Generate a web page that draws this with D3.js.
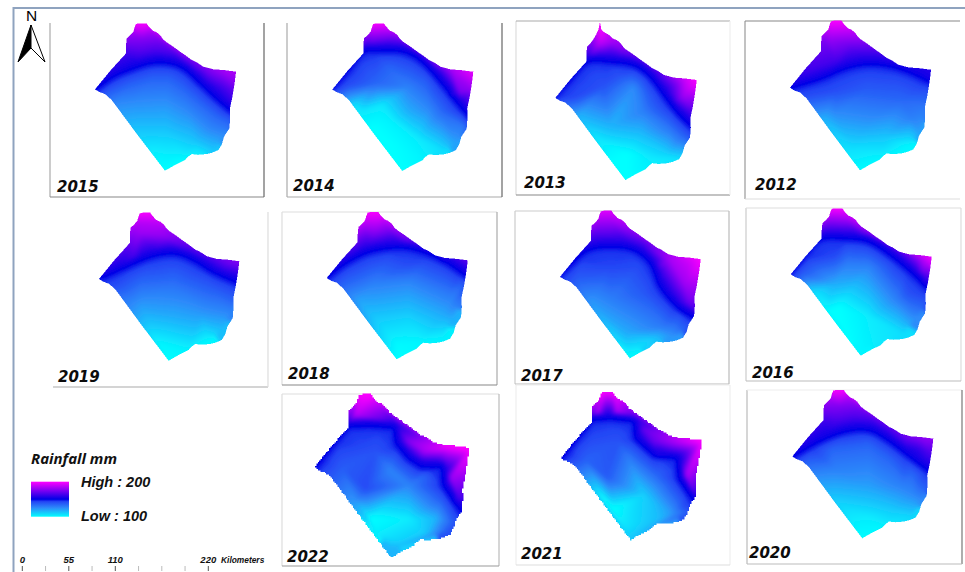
<!DOCTYPE html>
<html><head><meta charset="utf-8">
<script src="https://cdn.jsdelivr.net/npm/d3@7/dist/d3.min.js"></script>
<style>html,body{margin:0;padding:0;background:#fff;overflow:hidden}svg{display:block}</style>
</head><body><svg id="c" width="965" height="572"></svg>
<script>
// Boundary of the study area, in map units (0-100 across its extent)
const outline = [[29,0.5],[31,0],[36.6,0],[38,2],[40.9,5],[43.5,6],[46.1,7.9],[48,10.5],[50.1,12.4],[55,15.5],[60.3,19.2],[64,21.6],[68.6,24.9],[72,26.4],[76.8,29.4],[83.9,31.2],[92,31.8],[100,32.8],[99.5,37],[98.8,41.9],[97.4,50],[95.7,57.7],[95.8,65],[95.3,71.3],[91.5,76.9],[90,82],[87.5,86],[83,87.8],[79.2,88.7],[73,89.2],[68.6,88.7],[66,90.5],[63.8,92.8],[57,96],[49.6,100],[30,75.5],[11.8,52],[7.1,48],[3,46.6],[0,44.8],[11,32],[22,20.4],[22,15],[22.5,10.2],[25,8],[27.2,5.7],[28,3]];
const outline2013 = [[30.5,-1],[31.6,-6.3],[32.6,-1],[35,1],[38,2.5],[40.9,5],[43.5,6],[46.1,7.9],[48,10.5],[50.1,12.4],[55,15.5],[60.3,19.2],[64,21.6],[68.6,24.9],[72,26.4],[76.8,29.4],[83.9,31.2],[92,31.8],[100,32.8],[99.5,37],[98.8,41.9],[97.4,50],[95.7,57.7],[95.8,65],[95.3,71.3],[91.5,76.9],[90,82],[87.5,86],[83,87.8],[79.2,88.7],[73,89.2],[68.6,88.7],[66,90.5],[63.8,92.8],[57,96],[49.6,100],[30,75.5],[11.8,52],[7.1,48],[3,46.6],[0,44.8],[11,32],[22,20.4],[22,15],[22.5,10.2],[25,8],[27.2,5],[29,2]];

// Dark-blue 150 mm line in each year (map units)
const ridge2015 = [[-2,46],[0,44.8],[13,36],[27,30.5],[39,27],[51,26.7],[62.6,30.5],[74.5,40.7],[86,51],[96,59],[101,62]];
const ridge2014 = [[-2,45],[10,33],[21,20],[30.5,18.5],[49.6,19],[63.6,26],[77.6,40.6],[87,52],[95,61],[101,68]];
const ridge2013 = [[-2,45],[10,33],[22.6,20.5],[38.7,20.5],[55,22.7],[67,30.6],[79,46],[87,55.5],[95,63],[101,68]];
const ridge2012 = [[-2,46],[0,45],[22.5,38.5],[39,32],[55.5,29],[72,30.7],[86,35],[99,40.8],[102,42]];
const ridge2019 = [[-2,46],[0,45],[17,37.6],[36,30],[53,27.5],[67,32],[81,40],[97,46.6],[102,49]];
const ridge2018 = [[-2,46],[0,44.6],[13,35],[30,27],[51,24],[67.7,27],[84,33.7],[98,42.8],[102,46]];
const ridge2017 = [[-2,45],[9,35],[20,26.6],[35.5,24.4],[52,26.6],[64,35.7],[71,51.5],[83,65],[93.6,71.8],[99,76]];
const ridge2016 = [[-2,45],[10,32],[21,21],[38.8,20.4],[55.4,22.6],[72,32.8],[86,44],[97,54.3],[102,59]];
const ridge2022 = [[-2,46],[1.5,44],[11,32],[22,20],[35,19.3],[51,20.5],[52.5,30],[60.6,39.3],[69,44.4],[82,44.4],[83,55.6],[94,70.9],[98,76]];
const ridge2021 = [[-2,46],[1.5,44],[11,32],[22.5,19],[35,18],[51.5,19.8],[52.7,31.5],[65.7,42.7],[82,45],[83.5,58.4],[93,72],[98,78]];
const ridge2020 = [[-2,46],[0,45],[18,35],[37,28],[54,27],[68,34],[82,44],[96,54],[101,58]];

// Rainfall readings [mm, u, v] taken from each year's map colours
const rain2015 = [[200,28,-1],[200,37,-1],[185,25,4],[185,40,4],[175,23,11],[175,33,11],[175,45,10],[163,21,20],[165,32,20],[165,43,18],[165,56,20],[170,68,26],[172,80,33],[183,92,32],[185,102,32],[172,100,44],[160,88,44],[162,98,52],
 [135,10,48],[135,25,42],[135,40,38],[135,52,38],[135,62,44],[135,72,52],[135,85,62],[135,95,67],[125,14,55],[125,30,53],[125,50,52],[125,65,60],[125,80,72],[125,92,76],[112,28,73],[112,50,73],[112,70,80],[112,84,86],[103,40,88],[103,52,90],[103,62,90],[103,74,89],[100,49,101],[100,64,94]];
const rain2014 = [[200,30,-1],[200,37,-1],[170,27,12],[172,40,10],[157,54,17],[165,60,19],[172,72,27],[183,85,32],[195,100,33],[173,90,47],[165,86,48],[178,98,45],
 [142,10,42],[135,30,40.6],[128,54,43],[135,40,30],[138,66,38],[135,78,59],[125,68,59],[118,54,59],[105,15,56],[105,21,59],[105,35,55],[103,42,66],[100,42,81],[100,30,70],[100,25,72],[100,38,88],[104,60,78],[120,87,81],[107,78,86],[130,93,70],[100,50,98],[102,62,92]];
const rain2013 = [[200,31.6,-7],[200,32,-2],[187,31,8],[168,27,15],[180,40,8],[172,50,14],[162,60,20],[162,74,31.6],[200,101,33],[190,92,33],[180,90,44],[170,86,46],[165,96,54],
 [142,15,44],[140,34,37],[125,55,38],[140,45,30],[138,66,42],[128,62,54],[116,38.7,64],[116,16,57],[106,26,70],[104,34,75],[100,40,88],[100,50.5,82],[100,52,98],[130,81,66],[135,90,70],[110,79,82],[104,66,85],[115,60,68],[106,88,86]];
const rain2012 = [[200,29,-1],[200,37,-1],[180,28,12],[172,41.6,16],[163,32,27],[163,15,32],[160,62,23],[154,93,33],[157,101,33],[175,23,12],
 [141,32,47],[138,55,45],[135,79,52],[142,10,50],[124,32,63],[123,55,67.5],[128,86,65],[130,96,58],[107,44,85],[112,67,78],[102,84,83],[100,48,101],[102,66,92],[115,24,67],[120,92,75]];
const rain2019 = [[200,29,-1],[200,37,-1],[180,29,14],[178,48,16],[163,24,30],[163,65,25],[170,91,34],[175,101,34],[156,97,42],[185,26,7],[186,42,7],
 [142,12,48],[132,53,48],[135,30,46],[138,80,50],[127,91,66],[122,30,62],[118,53,70],[122,72,68],[102,41,88],[102,77,86],[100,50,101],[103,64,92],[114,88,79]];
const rain2018 = [[200,29,-1],[200,37,-1],[176,34,14],[185,26,8],[170,58,19],[163,82,30],[168,101,33],[160,20,26],[170,45,14],
 [142,58,35],[140,30,36],[128,34,48],[126,58,48],[136,12,48],[130,87,55],[135,96,50],[110,58,71],[112,34,71],[117,82,71],[120,22,60],[100,50,101],[101,50,90],[102,66,88],[103,82,85]];
const rain2017 = [[195,29,-1],[195,37,-1],[183,35.5,6],[168,35.5,15],[170,24,14],[165,59,22],[183,78,33],[200,101,33],[181,88,49],[158,77,51.5],[172,72,36],[190,92,35],[172,92,62],
 [143,35.5,38],[138,12,45],[128,35.5,60],[138,59,56],[118,47,83],[102,47,97],[130,73,78],[122,78,85],[110,66,87.6],[142,55,38],[122,22,62],[140,85,72]];
const rain2016 = [[200,29,-1],[200,37,-1],[168,28,12],[172,55,17],[180,40,8],[155,64.5,23.8],[195,99,34],[185,92,33],[170,93,43],[160,96,50],
 [143,31,31.5],[138,8,44],[127,55,39.6],[118,31,51],[100,34,66.7],[104,55,73.5],[127,74,62],[140,83,57.7],[125,86,73.5],[107,79,84.8],[102,50,96],[128,40,38],[106,16,57],[100,25,70],[100,40,86],[105,65,88]];
const rain2022 = [[200,29,-1],[200,37,0],[185,26,13],[172,38.7,15],[165,48,16],[176,60.6,29],[160,55,24],[183,71,35],[195,86,33],[200,101,34],[181,88,51],[164,92.8,63.7],[170,84,40],
 [143,30.5,31],[137,18,45.4],[142,32.7,57.6],[127,48.8,46.4],[140,39,35],[127,60.6,55.6],[100,35.9,76],[103,39,84],[104,60.6,76],[122,26,65.8],[116,78,76],[116,50,94],[140,86.5,84],[135,88,78],[112,71,86],[110,56,90],[138,82,64],[145,8,42],[135,70,50]];
const rain2021 = [[200,31,-1],[200,38,0],[187,25,13.5],[183,39.7,13.5],[168,51.5,15.7],[170,65.7,33.7],[170,58.6,24.7],[187,85,33.7],[200,101,33.7],[183,89,56],[166,93,67],[158,70,42.7],
 [143,23,29.2],[136,18,46],[138,32.6,57.3],[127,49,47],[100,30,72],[100,37,78.6],[110,58.6,69.7],[106,47,90],[112,49,100],[121,77,81],[140,87,78.6],[115,70.4,85.4],[135,68,56],[145,8,43],[140,40,33]];
const rain2020 = [[200,28,-1],[200,37,-1],[185,25,4],[185,40,4],[175,23,11],[175,33,11],[175,45,10],[163,21,20],[165,32,20],[165,43,18],[165,56,19],[168,68,24],[170,80,32],[178,92,32],[180,102,32],[165,97,42],[158,88,40],
 [136,10,48],[135,28,40],[135,54,37],[135,68,46],[135,85,56],[128,30,53],[121,54,64],[128,77,64],[125,85,71],[125,14,58],[110,30,75],[104,54,86],[112,72,80],[103,44,90],[100,50,101],[102,64,93],[108,84,86]];

// Legend and tick values
const years = [2015,2014,2013,2012,2019,2018,2017,2016,2022,2021,2020];
const rainDomain = [100,125,143,150,200];
const rainColors = ["#00ffff","#2d8cfa","#2446f5","#0000e6","#ff00ff"];
const scaleTicks = [0,27.5,55,82.5,110,137.5,165,192.5,220];
const scaleLabels = [0,55,110,220];

// Layout (screen pixels)
const layout = {
 2015:{box:[95,236,23.3,170.7],label:[57,192],frame:[[50,23,50,197,"#aaa"],[50,197,264,197,"#888"],[264,23,264,197,"#666"]],ridge:ridge2015,rain:rain2015},
 2014:{box:[332.3,473.3,23.3,171],label:[293,191],frame:[[287,23,287,197,"#aaa"],[287,197,502,197,"#aaa"],[502,23,502,197,"#666"]],ridge:ridge2014,rain:rain2014},
 2013:{box:[555.3,696.7,31.2,180],label:[524,188],frame:[[516,21,516,195,"#ddd"],[516,21,730,21,"#aaa"],[516,195,730,195,"#888"],[730,21,730,195,"#eee"]],ridge:ridge2013,rain:rain2013,shape:outline2013},
 2012:{box:[790,931,20.7,170.3],label:[755,190],frame:[[745,21,745,199,"#999"],[745,21,960,21,"#888"],[745,199,960,199,"#ddd"]],ridge:ridge2012,rain:rain2012},
 2019:{box:[99,239.3,212.7,360.7],label:[58,382],frame:[[53,387,268,387,"#aaa"],[268,212,268,387,"#ddd"]],ridge:ridge2019,rain:rain2019},
 2018:{box:[326.7,467.7,212,359.3],label:[288,379],frame:[[282,212,282,385,"#ddd"],[282,212,497,212,"#ddd"],[497,212,497,385,"#aaa"],[282,385,497,385,"#888"]],ridge:ridge2018,rain:rain2018},
 2017:{box:[560,700.7,210.7,358.3],label:[521,381],frame:[[515,211,515,384,"#ccc"],[515,211,729,211,"#ccc"],[729,211,729,384,"#bbb"],[515,384,729,384,"#bbb"]],ridge:ridge2017,rain:rain2017},
 2016:{box:[790.7,931.7,208.3,355.7],label:[752,378],frame:[[746,208,746,381,"#ccc"],[746,208,961,208,"#ddd"],[961,208,961,381,"#ddd"],[746,381,961,381,"#bbb"]],ridge:ridge2016,rain:rain2016},
 2022:{box:[314.3,469.3,394,557.7],label:[287,562],frame:[[282,394,282,566,"#ddd"],[282,394,499,394,"#ddd"],[499,394,499,566,"#bbb"],[282,566,499,566,"#999"]],ridge:ridge2022,rain:rain2022,coarse:true},
 2021:{box:[560.7,701.7,391.7,540],label:[521,559],frame:[[516,385,516,565,"#eee"],[516,385,730,385,"#eee"],[730,385,730,565,"#eee"],[516,565,730,565,"#ddd"]],ridge:ridge2021,rain:rain2021,coarse:true},
 2020:{box:[792.3,933.3,390,538.3],label:[749,558],frame:[[747,390,747,564,"#bbb"],[747,390,962,390,"#eee"],[962,390,962,564,"#777"],[747,564,962,564,"#bbb"]],ridge:ridge2020,rain:rain2020}
};

const color = d3.scaleLinear().domain(rainDomain).range(rainColors).clamp(true);
const svg = d3.select("#c");
const defs = svg.append("defs");
defs.append("filter").attr("id","soft").attr("x","-5%").attr("y","-5%").attr("width","110%").attr("height","110%")
  .append("feGaussianBlur").attr("stdDeviation",0.45);
const root = svg.append("g");

// Smooth the ridge between read points, so the mesh follows the curve
function refine(line, curved){
  const out=[];
  for(let i=0;i<line.length-1;i++){
    const p0=line[Math.max(i-1,0)],p1=line[i],p2=line[i+1],p3=line[Math.min(i+2,line.length-1)];
    const n=4;
    for(let k=0;k<n;k++){
      const t=k/n;
      if(curved){
        const f=j=>0.5*((2*p1[j])+(-p0[j]+p2[j])*t+(2*p0[j]-5*p1[j]+4*p2[j]-p3[j])*t*t+(-p0[j]+3*p1[j]-3*p2[j]+p3[j])*t*t*t);
        out.push([f(0),f(1)]);
      } else out.push([p1[0]+(p2[0]-p1[0])*t,p1[1]+(p2[1]-p1[1])*t]);
    }
  }
  out.push(line[line.length-1]);
  return out;
}

function fieldImage(p){
  const [x0,x1,y0,y1]=p.box, SS=2, pad=14;
  const ox=Math.floor(x0)-pad, oy=Math.floor(y0)-pad;
  const wpx=Math.ceil(x1-x0)+2*pad+1, hpx=Math.ceil(y1-y0)+2*pad+1;
  const W=wpx*SS,H=hpx*SS;
  const sx=d3.scaleLinear().domain([0,100]).range([x0,x1]);
  const sy=d3.scaleLinear().domain([0,100]).range([y0,y1]);
  // mesh nodes: read samples, the ridge and its two shoulders
  const line=refine(p.ridge,!p.coarse);
  const nodes=p.rain.map(d=>[d[1],d[2],d[0]]);
  line.forEach((q,i)=>{
    nodes.push([q[0],q[1],150]);
    const a=line[Math.max(i-1,0)],b=line[Math.min(i+1,line.length-1)];
    let nx=(b[1]-a[1]),ny=-(b[0]-a[0]);const L=Math.hypot(nx,ny)||1;nx/=L;ny/=L;
    nodes.push([q[0]+nx*2.5,q[1]+ny*2.5,154]);
    nodes.push([q[0]-nx*2.8,q[1]-ny*2.8,145]);
  });
  const pts=nodes.map(n=>[(sx(n[0])-ox)*SS,(sy(n[1])-oy)*SS]);
  const del=d3.Delaunay.from(pts);
  const field=new Float64Array(W*H).fill(NaN);
  const T=del.triangles;
  for(let t=0;t<T.length;t+=3){
    const a=T[t],b=T[t+1],c=T[t+2];
    const [ax,ay]=pts[a],[bx,by]=pts[b],[cx,cy]=pts[c];
    const d=(by-cy)*(ax-cx)+(cx-bx)*(ay-cy);
    if(Math.abs(d)<1e-6)continue;
    const xa=Math.max(0,Math.floor(Math.min(ax,bx,cx))),xb=Math.min(W-1,Math.ceil(Math.max(ax,bx,cx)));
    const ya=Math.max(0,Math.floor(Math.min(ay,by,cy))),yb=Math.min(H-1,Math.ceil(Math.max(ay,by,cy)));
    for(let y=ya;y<=yb;y++)for(let x=xa;x<=xb;x++){
      const l1=((by-cy)*(x-cx)+(cx-bx)*(y-cy))/d, l2=((cy-ay)*(x-cx)+(ax-cx)*(y-cy))/d, l3=1-l1-l2;
      if(l1>=-1e-6&&l2>=-1e-6&&l3>=-1e-6) field[y*W+x]=l1*nodes[a][2]+l2*nodes[b][2]+l3*nodes[c][2];
    }
  }
  let hint=0;
  for(let y=0;y<H;y++)for(let x=0;x<W;x++){
    if(isNaN(field[y*W+x])){hint=del.find(x,y,hint);field[y*W+x]=nodes[hint][2];}
  }
  d3.blur2({data:field,width:W,height:H},3.5);
  const shape=(p.shape||outline).map(q=>[sx(q[0]),sy(q[1])]);
  const cv=document.createElement("canvas");cv.width=W;cv.height=H;
  const ctx=cv.getContext("2d");const img=ctx.createImageData(W,H);
  const cell=p.coarse?1.4:0.5;
  for(let y=0;y<H;y++)for(let x=0;x<W;x++){
    let px=ox+(x+.5)/SS,py=oy+(y+.5)/SS;
    px=(Math.floor(px/cell)+.5)*cell;py=(Math.floor(py/cell)+.5)*cell;
    if(!d3.polygonContains(shape,[px,py]))continue;
    const c=d3.rgb(color(field[y*W+x])),i=(y*W+x)*4;
    img.data[i]=c.r;img.data[i+1]=c.g;img.data[i+2]=c.b;img.data[i+3]=255;
  }
  ctx.putImageData(img,0,0);
  return {href:cv.toDataURL(),x:ox,y:oy,width:wpx,height:hpx};
}

// Outer page frame
root.append("path").attr("d","M13.5,572V8H965").attr("fill","none").attr("stroke","#8fa3bf").attr("stroke-width",2);

years.forEach(yr=>{
  const p=layout[yr];
  const g=root.append("g");
  g.selectAll("line").data(p.frame).join("line")
    .attr("x1",d=>d[0]).attr("y1",d=>d[1]).attr("x2",d=>d[2]).attr("y2",d=>d[3])
    .attr("stroke",d=>d[4]).attr("stroke-width",1.2);
  const im=fieldImage(p);
  g.append("image").attr("href",im.href).attr("x",im.x).attr("y",im.y)
   .attr("width",im.width).attr("height",im.height).attr("filter","url(#soft)");
  g.append("text").attr("x",p.label[0]).attr("y",p.label[1]).text(yr)
   .attr("font-family","DejaVu Sans").attr("font-weight","bold").attr("font-style","italic")
   .attr("font-size",15).attr("fill","#0c0c0c");
});

// North arrow
const na=root.append("g");
na.append("text").attr("x",31.5).attr("y",21).attr("text-anchor","middle").attr("font-family","Liberation Sans").attr("font-size",15.5).text("N");
na.append("path").attr("d","M31,25L18,62L31,48Z").attr("fill","#000").attr("stroke","#000");
na.append("path").attr("d","M31,25L45,62L31,48Z").attr("fill","#fff").attr("stroke","#000").attr("stroke-width",1);

// Legend
const lg=defs.append("linearGradient").attr("id","lg").attr("x1",0).attr("x2",0).attr("y1",1).attr("y2",0);
const lgPos=d3.scaleLinear().domain([100,200]).range([0,1]);
rainDomain.forEach((v,i)=>lg.append("stop").attr("offset",lgPos(v)).attr("stop-color",rainColors[i]));
root.append("rect").attr("x",31).attr("y",481.7).attr("width",38).attr("height",35).attr("fill","url(#lg)");
const ltext=(x,y,s,size,fam)=>root.append("text").attr("x",x).attr("y",y).text(s)
  .attr("font-family",fam||"Liberation Sans").attr("font-style","italic").attr("font-weight","bold")
  .attr("font-size",size).attr("fill","#111");
ltext(31,464,"Rainfall mm",15,"Open Sans");
ltext(81,487,"High : 200",14.5);
ltext(81,521,"Low : 100",14.5);

// Scale bar
const sb=d3.scaleLinear().domain([0,220]).range([22.3,208.3]);
root.selectAll("line.t").data(scaleTicks).join("line").attr("class","t")
  .attr("x1",d=>sb(d)).attr("x2",d=>sb(d)).attr("y1",566).attr("y2",571)
  .attr("stroke",d=>scaleLabels.includes(d)?"#555":"#bbb").attr("stroke-width",1);
root.selectAll("text.t").data(scaleLabels).join("text").attr("class","t")
  .attr("x",d=>sb(d)).attr("y",563).attr("text-anchor","middle").text(d=>d)
  .attr("font-family","Liberation Sans").attr("font-style","italic").attr("font-weight","bold")
  .attr("font-size",9.5).attr("fill","#111");
ltext(221,563,"Kilometers",8.4);
</script></body></html>
